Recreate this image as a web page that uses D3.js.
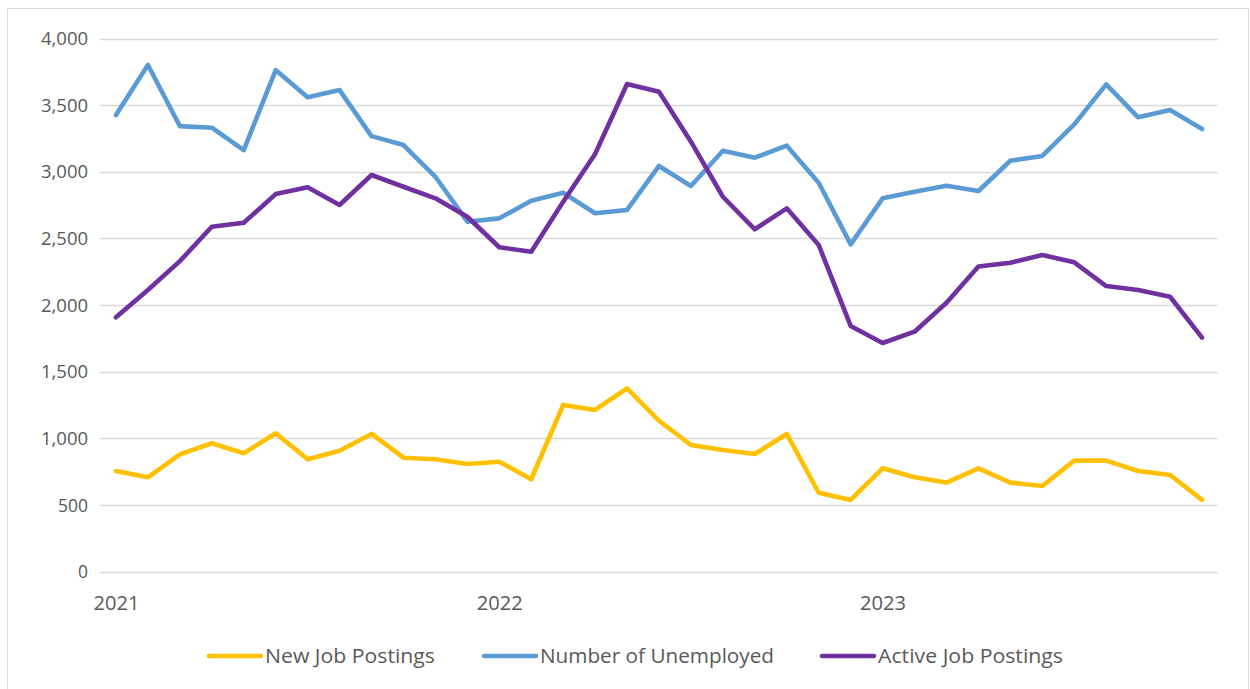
<!DOCTYPE html>
<html>
<head>
<meta charset="utf-8">
<script src="https://cdn.jsdelivr.net/npm/d3@7"></script>
<style>
  html, body { margin: 0; padding: 0; background: #fff; }
  svg { display: block; }
</style>
</head>
<body>
<svg id="chart" width="1250" height="689"></svg>
<script>
const months = ["2021-01","2021-02","2021-03","2021-04","2021-05","2021-06","2021-07","2021-08","2021-09","2021-10","2021-11","2021-12",
                "2022-01","2022-02","2022-03","2022-04","2022-05","2022-06","2022-07","2022-08","2022-09","2022-10","2022-11","2022-12",
                "2023-01","2023-02","2023-03","2023-04","2023-05","2023-06","2023-07","2023-08","2023-09","2023-10","2023-11"];
const newJobPostings = [756, 709, 881, 964, 889, 1039, 844, 908, 1034, 856, 844, 809,
                        826, 694, 1251, 1214, 1376, 1133, 951, 914, 884, 1034, 593, 539,
                        776, 709, 669, 776, 669, 644, 834, 834, 756, 726, 539];
const numberUnemployed = [3426, 3801, 3343, 3331, 3163, 3763, 3559, 3613, 3268, 3201, 2963, 2626,
                          2651, 2783, 2843, 2689, 2714, 3044, 2894, 3158, 3106, 3196, 2918, 2456,
                          2801, 2851, 2896, 2856, 3083, 3119, 3356, 3656, 3409, 3464, 3321];
const activeJobPostings = [1909, 2114, 2330, 2588, 2618, 2833, 2884, 2751, 2976, 2888, 2801, 2663,
                           2434, 2401, 2776, 3134, 3659, 3601, 3226, 2813, 2569, 2726, 2451, 1844,
                           1716, 1801, 2018, 2290, 2318, 2376, 2321, 2143, 2113, 2063, 1757];
const yTicks = [0, 500, 1000, 1500, 2000, 2500, 3000, 3500, 4000];
const xTickMonths = ["2021-01", "2022-01", "2023-01"];
const xTickLabels = ["2021", "2022", "2023"];
const seriesNames = ["New Job Postings", "Number of Unemployed", "Active Job Postings"];
const seriesColors = ["#FFC000", "#5B9BD5", "#7030A0"];

const series = [newJobPostings, numberUnemployed, activeJobPostings];

const svg = d3.select("#chart");
const font = "'Open Sans', 'Noto Sans', sans-serif";

// outer frame
svg.append("rect")
  .attr("x", 7.5).attr("y", 8.5)
  .attr("width", 1241).attr("height", 690)
  .attr("fill", "#fff")
  .attr("stroke", "#D9D9D9").attr("stroke-width", 1);

const x = d3.scalePoint().domain(months).range([100, 1218]).padding(0.5);
const y = d3.scaleLinear().domain([0, 4000]).range([571.8, 38.5]);

// gridlines
svg.append("g").selectAll("line")
  .data(yTicks).join("line")
  .attr("x1", 100).attr("x2", 1218)
  .attr("y1", d => Math.round(y(d)) + 0.5).attr("y2", d => Math.round(y(d)) + 0.5)
  .attr("stroke", "#D9D9D9").attr("stroke-width", 1.3);

// y axis labels
const yAxis = d3.axisLeft(y).tickValues(yTicks).tickFormat(d3.format(",")).tickSize(0).tickPadding(12);
const yg = svg.append("g").attr("transform", "translate(100,0)").call(yAxis);
yg.select(".domain").remove();
yg.selectAll("text")
  .attr("font-family", font).attr("font-size", 19).attr("fill", "#595959")
  .attr("textLength", 47).attr("lengthAdjust", "spacingAndGlyphs")
  .each(function(d) {
    const s = d3.format(",")(d);
    d3.select(this).attr("textLength", s.length === 5 ? 47 : s.length === 3 ? 30 : 10);
  });

// x axis labels
const xAxis = d3.axisBottom(x).tickValues(xTickMonths)
  .tickFormat(d => xTickLabels[xTickMonths.indexOf(d)]).tickSize(0).tickPadding(24);
const xg = svg.append("g").attr("transform", "translate(0,571.8)").call(xAxis);
xg.select(".domain").remove();
xg.selectAll("text")
  .attr("font-family", font).attr("font-size", 20).attr("fill", "#595959")
  .attr("textLength", 46).attr("lengthAdjust", "spacingAndGlyphs");

// lines
const line = d3.line().x((d, i) => x(months[i])).y(d => y(d));
svg.append("g").selectAll("path")
  .data(series).join("path")
  .attr("d", d => line(d))
  .attr("fill", "none")
  .attr("stroke", (d, i) => seriesColors[i])
  .attr("stroke-width", 4.6)
  .attr("stroke-linejoin", "round")
  .attr("stroke-linecap", "round");

// legend
const legendX = [207, 482, 820];
const legendTextW = [170, 234, 185];
const lg = svg.append("g").selectAll("g")
  .data(seriesNames).join("g")
  .attr("transform", (d, i) => `translate(${legendX[i]},656)`);
lg.append("line")
  .attr("x1", 2).attr("x2", 54).attr("y1", 0).attr("y2", 0)
  .attr("stroke", (d, i) => seriesColors[i])
  .attr("stroke-width", 4.6).attr("stroke-linecap", "round");
lg.append("text")
  .attr("x", 58).attr("y", 0).attr("dy", "0.35em")
  .attr("font-family", font).attr("font-size", 20.5).attr("fill", "#595959")
  .attr("textLength", (d, i) => legendTextW[i])
  .attr("lengthAdjust", "spacingAndGlyphs")
  .text(d => d);
</script>
</body>
</html>
